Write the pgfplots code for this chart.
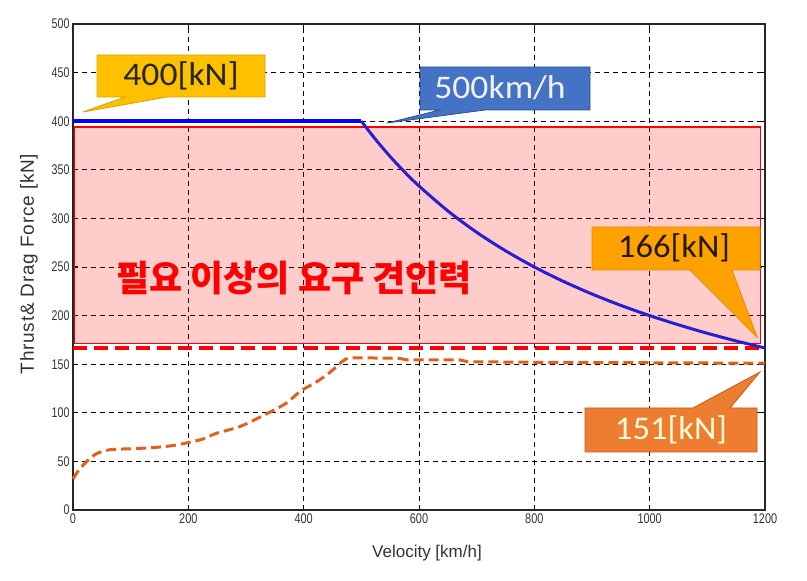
\documentclass[border=0pt]{standalone}
\usepackage{pgfplots}
\pgfplotsset{compat=1.18}
\usepackage{fontspec}
\setmainfont{Liberation Sans}
\newfontfamily\calfont{Carlito}
\newfontfamily\krfont{Noto Sans CJK KR}
\definecolor{cyellow}{HTML}{FFC000}
\definecolor{cyellowd}{HTML}{D9A300}
\definecolor{cblue}{HTML}{4472C4}
\definecolor{cblued}{HTML}{2F528F}
\definecolor{corange}{HTML}{FFA200}
\definecolor{coranged}{HTML}{E08A00}
\definecolor{cdark}{HTML}{ED7D31}
\definecolor{cdarkd}{HTML}{C55A11}
\definecolor{dragc}{HTML}{E0601E}
\definecolor{curveblue}{HTML}{2A1FD0}
\begin{document}
\begin{tikzpicture}
\useasboundingbox (0,0) rectangle (807pt,581pt);
\begin{axis}[
  at={(73pt,71pt)}, anchor=south west,
  scale only axis, width=692pt, height=486pt,
  xmin=0, xmax=1200, ymin=0, ymax=500,
  xtick={0,200,...,1200}, ytick={0,50,...,500},
  grid=major,
  grid style={black, line width=0.9pt, dash pattern=on 4.5pt off 4.5pt},
  axis line style={black!85, line width=1.3pt},
  tick style={black, line width=1pt},
  major tick length=5pt, tick align=inside,
  clip=false,
  /pgf/number format/assume math mode=true,
  /pgf/number format/1000 sep={},
  xticklabel style={font=\fontsize{14}{14}\selectfont, text=black!80},
  yticklabel style={font=\fontsize{14}{14}\selectfont, text=black!80},
  xticklabel={\scalebox{0.78}[1]{\pgfmathprintnumber{\tick}}},
  yticklabel={\scalebox{0.76}[1]{\pgfmathprintnumber{\tick}}},
]
% required traction area
\addplot[draw=red, line width=1.2pt, fill=red, fill opacity=0.2] coordinates {(2,171) (1192,171) (1192,394) (2,394) (2,171)};
% required line
\addplot[red, line width=4pt, dash pattern=on 14pt off 7pt] coordinates {(0,167) (1200,167)};
% drag force
\addplot[dragc, line width=3pt, dash pattern=on 10pt off 5pt, smooth] coordinates {
(0,32) (10,41) (24,50) (41,58) (64,62) (100,63) (134,64) (170,66) (197,69) (225,73) (249,79) (290,86) (336,99) (370,110) (394,122) (420,131) (440,139) (460,149) (472,155) (490,156.5) (565,156)};
\addplot[dragc, line width=3pt, dash pattern=on 10pt off 5pt] coordinates {
(565,156) (580,154.5) (670,154.5) (685,152.5) (800,152) (1000,151.5) (1200,151)};
% thrust
\addplot[blue, line width=4pt] coordinates {(0,400) (500,400)};
\addplot[curveblue, line width=3pt, smooth] coordinates {
(500,400) (525,381) (550,363.6) (575,347.8) (600,333.3) (650,307.7) (700,285.7) (750,266.7) (800,250) (850,235.3) (900,222.2) (950,210.5) (1000,200) (1050,190.5) (1100,181.8) (1150,173.9) (1200,166.7)};
\end{axis}
\begin{scope}[x=1pt, y=-1pt, yshift=581pt]
  % labels
  \node[rotate=90, text=black!80, font=\fontsize{19}{19}\selectfont\addfontfeature{LetterSpace=4}] at (29,264) {Thrust\& Drag Force [kN]};
  \node[text=black!80, font=\fontsize{17}{17}\selectfont] at (427,553) {Velocity [km/h]};
  \node[text=red, font=\fontsize{36}{36}\selectfont\krfont\bfseries] at (294,278) {필요 이상의 요구 견인력};
  % callouts
  \filldraw[fill=cyellow, draw=cyellowd, line width=0.8pt] (97,55) -- (265,55) -- (265,97) -- (167,97) -- (83,112) -- (125,97) -- (97,97) -- cycle;
  \node[font=\fontsize{33}{33}\selectfont\calfont, text=black!85] at (181,76) {\scalebox{1.08}[1]{400[kN]}};
  \filldraw[fill=cblue, draw=cblued, line width=0.8pt] (420,67) -- (590,67) -- (590,110) -- (485,110) -- (387,123) -- (440,110) -- (420,110) -- cycle;
  \node[font=\fontsize{33}{33}\selectfont\calfont, text=white!95!black] at (500,88) {\scalebox{1.08}[1]{500km/h}};
  \filldraw[fill=corange, draw=coranged, line width=0.8pt] (592,227) -- (760,227) -- (760,270) -- (732,270) -- (757,337) -- (690,270) -- (592,270) -- cycle;
  \node[font=\fontsize{33}{33}\selectfont\calfont, text=black!80!brown] at (674,248) {\scalebox{1.05}[1]{166[kN]}};
  \filldraw[fill=cdark, draw=cdarkd, line width=0.8pt] (585,408) -- (693,408) -- (760,372) -- (730,408) -- (757,408) -- (757,452) -- (585,452) -- cycle;
  \node[font=\fontsize{33}{33}\selectfont\calfont, text=white!85!yellow] at (671,430) {\scalebox{1.05}[1]{151[kN]}};
\end{scope}
\end{tikzpicture}
\end{document}
